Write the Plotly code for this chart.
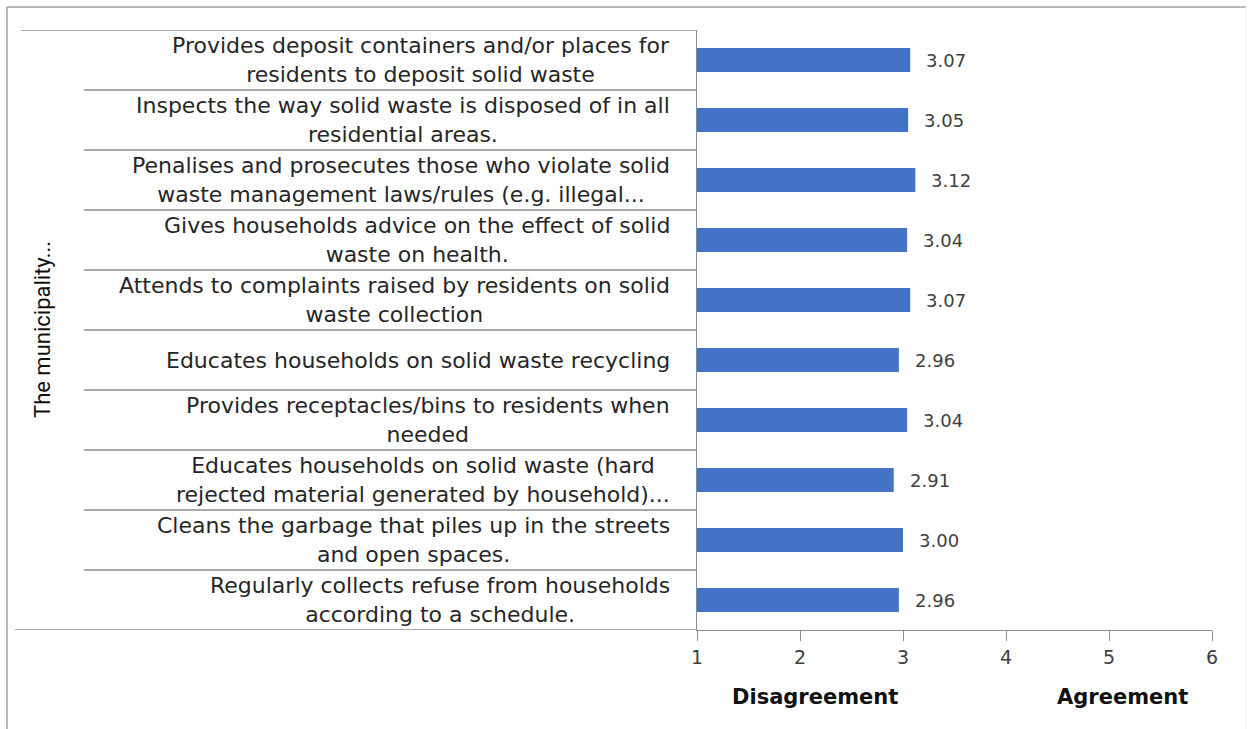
import plotly.graph_objects as go

# Survey items (top to bottom) and their mean scores
items = [
    "Provides deposit containers and/or places for<br>residents to deposit solid waste",
    "Inspects the way solid waste is disposed of in all<br>residential areas.",
    "Penalises and prosecutes those who violate solid<br>waste management laws/rules (e.g. illegal...",
    "Gives households advice on the effect of solid<br>waste on health.",
    "Attends to complaints raised by residents on solid<br>waste collection",
    "Educates households on solid waste recycling",
    "Provides receptacles/bins to residents when<br>needed",
    "Educates households on solid waste (hard<br>rejected material generated by household)...",
    "Cleans the garbage that piles up in the streets<br>and open spaces.",
    "Regularly collects refuse from households<br>according to a schedule.",
]
scores = [3.07, 3.05, 3.12, 3.04, 3.07, 2.96, 3.04, 2.91, 3.00, 2.96]
x_ticks = [1, 2, 3, 4, 5, 6]
group_label = "The municipality..."
scale_labels = ["Disagreement", "Agreement"]

W, H = 1248, 729
L, R, T, B = 697, 1212, 30, 630  # plot area in pixels
PW, PH = R - L, B - T


def px_x(px):
    return (px - L) / PW


def px_y(py):
    return (B - py) / PH


BAR = "#4472C4"
GRID = "#8C8C8C"
TXT = "#262626"
FONT = "DejaVu Sans"

cats = list(range(len(items)))

fig = go.Figure(
    go.Bar(
        x=[s - 1 for s in scores],
        base=1,
        y=cats,
        orientation="h",
        marker=dict(color=BAR, line=dict(width=0)),
        width=0.4,
        hoverinfo="skip",
    )
)

annotations = []
shapes = []

# Value labels to the right of each bar
for i, s in enumerate(scores):
    annotations.append(dict(
        x=s, y=i, xref="x", yref="y", text=f"{s:.2f}", showarrow=False,
        xanchor="left", xshift=14, font=dict(family=FONT, size=18, color="#404040"),
    ))

# Category labels, right-aligned block with centered lines
for i, lab in enumerate(items):
    annotations.append(dict(
        x=px_x(672), y=i, xref="paper", yref="y", text=lab, showarrow=False,
        xanchor="right", yanchor="middle", align="center",
        font=dict(family=FONT, size=22, color=TXT),
    ))

# Separator lines between categories
for i in range(len(items) - 1):
    shapes.append(dict(type="line", xref="paper", yref="y",
                       x0=px_x(84), x1=0, y0=i + 0.5, y1=i + 0.5,
                       line=dict(color=GRID, width=1.3)))
shapes.append(dict(type="line", xref="paper", yref="y", x0=px_x(21), x1=0,
                   y0=-0.5, y1=-0.5, line=dict(color=GRID, width=1.3)))
shapes.append(dict(type="line", xref="paper", yref="y", x0=px_x(15), x1=0,
                   y0=len(items) - 0.5, y1=len(items) - 0.5,
                   line=dict(color=GRID, width=1.3)))

# Outer frame
shapes.append(dict(type="line", xref="paper", yref="paper",
                   x0=px_x(7), x1=px_x(7), y0=px_y(7), y1=px_y(735),
                   line=dict(color="#A0A0A0", width=1.5)))
shapes.append(dict(type="line", xref="paper", yref="paper",
                   x0=px_x(7), x1=px_x(1246), y0=px_y(7), y1=px_y(7),
                   line=dict(color="#A0A0A0", width=1.5)))
shapes.append(dict(type="line", xref="paper", yref="paper",
                   x0=px_x(1246), x1=px_x(1246), y0=px_y(7), y1=px_y(735),
                   line=dict(color="#EEEEEE", width=1)))

# Group label
annotations.append(dict(
    x=px_x(42), y=0.5, xref="paper", yref="paper", text=group_label,
    showarrow=False, textangle=-90, xanchor="center", yanchor="middle",
    font=dict(family="Liberation Sans Narrow, Roboto", size=22, color="#111111"),
))

# Scale end labels
for xv, lab in zip([2.15, 5.13], scale_labels):
    annotations.append(dict(
        x=xv, y=px_y(697), xref="x", yref="paper", text=f"<b>{lab}</b>",
        showarrow=False, xanchor="center", yanchor="middle",
        font=dict(family=FONT, size=21, color="#111111"),
    ))

fig.update_layout(
    width=W, height=H,
    margin=dict(l=L, r=W - R, t=T, b=H - B, pad=0),
    paper_bgcolor="white", plot_bgcolor="white",
    showlegend=False,
    annotations=annotations, shapes=shapes,
    xaxis=dict(
        range=[1, 6], tickvals=x_ticks, ticktext=[str(t) for t in x_ticks],
        showgrid=False, zeroline=False, showline=True, linecolor=GRID, linewidth=1.3,
        ticks="outside", ticklen=10, tickcolor=GRID, tickwidth=1.3,
        tickfont=dict(family=FONT, size=19, color="#404040"),
    ),
    yaxis=dict(
        range=[len(items) - 0.5, -0.5], showticklabels=False, ticks="",
        showgrid=False, zeroline=False, showline=True, linecolor=GRID, linewidth=1.3,
    ),
)

fig.write_html("out.html")
